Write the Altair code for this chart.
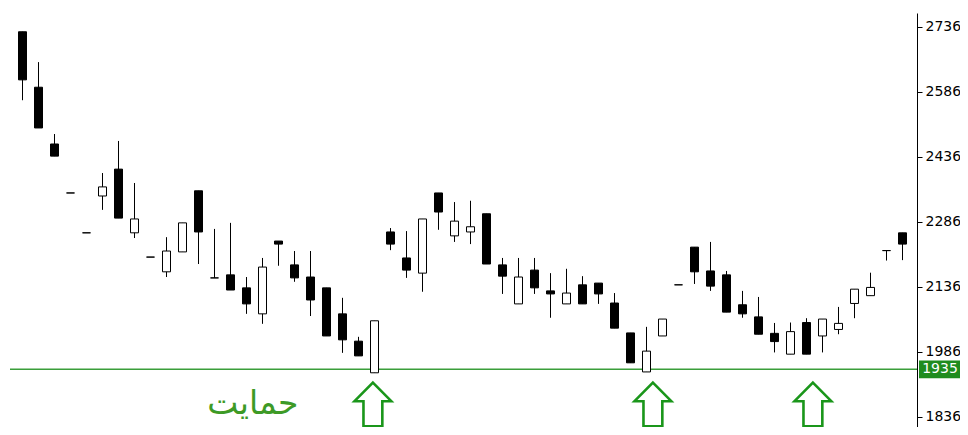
import altair as alt
import pandas as pd

# Candle index (bar number) and OHLC values
bar = list(range(1, 57))
opens = [2725, 2597, 2466, 2353, 2261, 2346, 2408, 2261, 2205, 2171,
         2217, 2358, 2157, 2164, 2134, 2074, 2242, 2187, 2159, 2134,
         2074, 2011, 1938, 2263, 2203, 2168, 2353, 2254, 2263, 2305,
         2187, 2097, 2175, 2127, 2097, 2141, 2145, 2099, 2030, 1940,
         2023, 2141, 2228, 2173, 2164, 2095, 2067, 2029, 1981, 2054,
         2023, 2038, 2098, 2116, 2220, 2261]
highs = [2725, 2655, 2489, 2353, 2261, 2399, 2473, 2376, 2205, 2251,
         2284, 2358, 2270, 2284, 2159, 2203, 2242, 2219, 2219, 2134,
         2111, 2021, 2058, 2272, 2265, 2293, 2353, 2332, 2335, 2305,
         2203, 2203, 2203, 2168, 2178, 2161, 2145, 2122, 2030, 2044,
         2062, 2141, 2228, 2240, 2173, 2127, 2113, 2053, 2054, 2064,
         2062, 2090, 2131, 2169, 2220, 2261]
lows = [2567, 2503, 2438, 2353, 2261, 2314, 2295, 2249, 2205, 2159,
        2217, 2189, 2157, 2129, 2074, 2051, 2185, 2148, 2069, 2023,
        1984, 1977, 1938, 2221, 2157, 2125, 2268, 2240, 2235, 2189,
        2120, 2097, 2120, 2065, 2097, 2097, 2097, 2041, 1961, 1940,
        2023, 2141, 2143, 2127, 2078, 2065, 2027, 1985, 1981, 1981,
        1985, 2027, 2064, 2116, 2197, 2198]
closes = [2614, 2503, 2438, 2353, 2261, 2367, 2295, 2293, 2205, 2219,
          2284, 2263, 2157, 2129, 2097, 2182, 2235, 2157, 2106, 2023,
          2014, 1977, 2058, 2235, 2175, 2293, 2309, 2288, 2275, 2189,
          2161, 2159, 2134, 2120, 2122, 2097, 2120, 2041, 1961, 1988,
          2062, 2141, 2171, 2138, 2078, 2074, 2027, 2010, 2033, 1981,
          2062, 2052, 2131, 2135, 2220, 2235]

axis_ticks = [1836, 1986, 2136, 2286, 2436, 2586, 2736]
support_level = [1946]
support_label = ["1935"]
support_text = ["حمایت"]
text_bar = [15.4]
text_price = [1866]
arrow_bars = [22.9, 40.4, 50.4]
arrow_price = [1865, 1865, 1865]

df = pd.DataFrame({"bar": bar, "open": opens, "high": highs,
                   "low": lows, "close": closes})
df["up"] = df["close"] > df["open"]

W, H = 909, 414
xs = alt.Scale(domain=[0.09375, 56.90625], nice=False, zero=False, padding=0)
ys = alt.Scale(domain=[1812.9, 2768.3], nice=False, zero=False, padding=0)

X = alt.X("bar:Q", scale=xs, axis=None)
base = alt.Chart(df)

wicks = base.mark_rule(color="black", strokeWidth=1).encode(
    x=X,
    y=alt.Y("low:Q", scale=ys, axis=alt.Axis(
        orient="right", values=axis_ticks, format="d", grid=False,
        domainColor="black", tickColor="black", tickSize=5, labelPadding=3,
        labelFont="DejaVu Sans", labelFontSize=14, labelColor="black",
        title=None, labelBound=False, labelOverlap=False, labelFlush=False)),
    y2="high:Q",
)

bodies = base.mark_bar(size=8, stroke="black", strokeWidth=1).encode(
    x=X,
    y=alt.Y("open:Q", scale=ys),
    y2="close:Q",
    fill=alt.condition("datum.up", alt.value("white"), alt.value("black")),
)

sup = pd.DataFrame({"level": support_level, "label": support_label})
line = alt.Chart(sup).mark_rule(color="#3a9e3a", strokeWidth=1.6).encode(
    y=alt.Y("level:Q", scale=ys), x=alt.value(2), x2=alt.value(W))

box_path = "M-1,-0.43 L1,-0.43 L1,0.43 L-1,0.43 Z"
box = alt.Chart(sup).mark_point(shape=box_path, size=41 * 41, filled=True,
                                 color="#1f8c1f", opacity=1).encode(
    y=alt.Y("level:Q", scale=ys), x=alt.value(931.5))
box_text = alt.Chart(sup).mark_text(color="white", font="DejaVu Sans",
                                    fontSize=14, align="center",
                                    baseline="middle").encode(
    y=alt.Y("level:Q", scale=ys), x=alt.value(932), text="label:N")

tdf = pd.DataFrame({"bar": text_bar, "price": text_price, "t": support_text})
label = alt.Chart(tdf).mark_text(color="#3d9a26", font="DejaVu Sans",
                                 fontSize=33, align="center",
                                 baseline="middle").encode(
    x=alt.X("bar:Q", scale=xs), y=alt.Y("price:Q", scale=ys), text="t:N")

adf = pd.DataFrame({"bar": arrow_bars, "price": arrow_price})
arrow_path = ("M0,-0.95 L0.80,-0.14 L0.41,-0.14 L0.41,0.95 "
              "L-0.41,0.95 L-0.41,-0.14 L-0.80,-0.14 Z")
arrows = alt.Chart(adf).mark_point(shape=arrow_path, size=46 * 46,
                                   fill="white", fillOpacity=1,
                                   stroke="#1a961a", strokeWidth=2.6,
                                   opacity=1).encode(
    x=alt.X("bar:Q", scale=xs), y=alt.Y("price:Q", scale=ys))

chart = alt.layer(line, wicks, bodies, label, arrows, box, box_text).properties(
    width=W, height=H,
    autosize=alt.AutoSizeParams(type="none"),
    padding={"left": 0, "top": 5, "right": 43, "bottom": 0},
    background="white",
).configure_view(stroke=None)

chart.save("out.html", embed_options={"renderer": "svg", "actions": False})
